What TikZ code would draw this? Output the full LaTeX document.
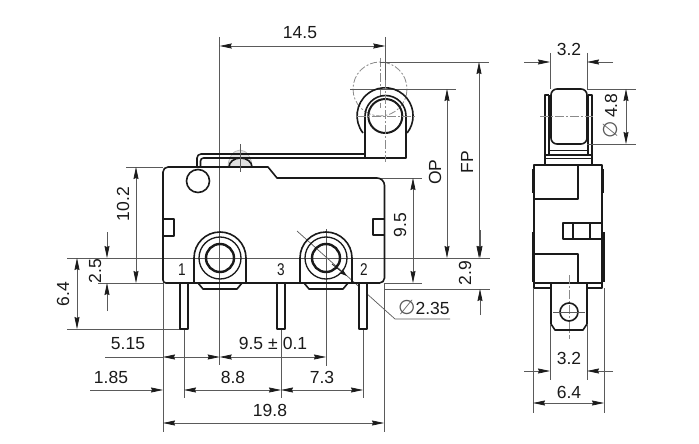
\documentclass[tikz,border=0pt]{standalone}
\usepackage{fontspec}
\setmainfont{Liberation Sans}
\newfontfamily\symfont{DejaVu Sans}
\usetikzlibrary{arrows.meta}
\definecolor{ink}{HTML}{1A1A1A}
\definecolor{thin}{HTML}{5A5A5A}
\definecolor{cen}{HTML}{8A8A8A}
\tikzset{
  outline/.style={draw=ink,line width=1.6pt,line join=round},
  heavy/.style={draw=ink,line width=2.4pt},
  dimline/.style={draw=thin,line width=0.7pt},
  centre/.style={draw=cen,line width=0.7pt,dash pattern=on 9pt off 2pt on 2pt off 2pt},
  ghost/.style={draw=cen,line width=0.8pt,dash pattern=on 7pt off 2pt on 2pt off 2pt},
  tip/.style={-{Stealth[length=12pt,width=5pt,inset=1pt,color=ink]}},
  both/.style={{Stealth[length=12pt,width=5pt,inset=1pt,color=ink]}-{Stealth[length=12pt,width=5pt,inset=1pt,color=ink]}},
  label/.style={text=ink,font=\fontsize{17.5}{18}\selectfont,inner sep=0pt},
  vlabel/.style={label,rotate=90},
  pinno/.style={text=ink,font=\fontsize{17}{18}\selectfont,inner sep=0pt,xscale=.8},
}
\begin{document}
\begin{tikzpicture}[x=1pt,y=-1pt]
\useasboundingbox (0,0) rectangle (699,444);
\fill[white] (0,0) rectangle (699,444);
% ghost positions
\draw[ghost] (380,89) circle (27);
\draw[centre] (380,58) -- (380,108);
\draw[fill=black!12,draw=black!30,line width=.6pt] (228,167) arc (180:360:12 and 17);
% extension lines
\draw[dimline] (219.7,37) -- (219.7,365);
\draw[dimline] (385.3,37) -- (385.3,89);
\draw[dimline] (380,62) -- (489,62);
\draw[dimline] (350,89) -- (456,89);
\draw[dimline] (126,167) -- (163,167);
\draw[dimline] (377,178) -- (422,178);
\draw[dimline] (67,258) -- (490,258);
\draw[dimline] (98,283) -- (163,283);
\draw[dimline] (384,283) -- (422,283);
\draw[dimline] (384,289) -- (490,289);
\draw[dimline] (67,329) -- (180,329);
\draw[dimline] (163,283) -- (163,432);
\draw[dimline] (384,283) -- (384,432);
\draw[dimline] (184,329) -- (184,398);
\draw[dimline] (281,329) -- (281,398);
\draw[dimline] (363,329) -- (363,398);
\draw[dimline] (326,289) -- (326,366);
\draw[dimline] (326,229) -- (326,289);
% dimensions
\draw[dimline,both] (219.7,46) -- (385.3,46);
\node[label] (d145) at (300,33) {14.5};
\draw[dimline,both] (136,167) -- (136,283);
\node[vlabel] (d102) at (123,204) {10.2};
\draw[dimline,both] (413,178) -- (413,283);
\node[vlabel] (d95) at (400,225) {9.5};
\draw[dimline,both] (447,89) -- (447,258);
\node[vlabel] (dop) at (435,172) {OP};
\draw[dimline,both] (479,62) -- (479,258);
\node[vlabel] (dfp) at (467,162) {FP};
\draw[dimline,both] (77,258) -- (77,329);
\node[vlabel] (d64) at (63,294) {6.4};
\draw[dimline,tip] (107,232) -- (107,258);
\draw[dimline,tip] (107,311) -- (107,283);
\node[vlabel] (d25) at (95,271) {2.5};
\draw[dimline,tip] (480,230) -- (480,258);
\draw[dimline,tip] (480,315) -- (480,289);
\node[vlabel] (d29) at (465,273) {2.9};
\draw[dimline] (105,357) -- (163,357);
\draw[dimline,both] (163,357) -- (219.7,357);
\node[label] (d515) at (128,344) {5.15};
\draw[dimline,both] (219.7,357) -- (326,357);
\node[label] (d95b) at (273,343) {9.5\hspace{5pt}±\hspace{5pt}0.1};
\draw[dimline,tip] (90,390) -- (163,390);
\draw[dimline,both] (184,390) -- (281,390);
\draw[dimline,both] (281,390) -- (363,390);
\node[label] (d185) at (111,377) {1.85};
\node[label] (d88) at (233,377) {8.8};
\node[label] (d73) at (322,377) {7.3};
\draw[dimline,both] (163,423) -- (384,423);
\node[label] (d198) at (270,410) {19.8};
% leader
\coordinate (lk) at (395,319);
\draw[dimline] (297,231) -- (lk) -- (450,319);
\draw[line width=.8pt,draw=ink,-{Stealth[length=8pt,width=5pt]}] (332,264) -- (347,276);
\node[label,anchor=west] (d235) at (398,307) {{\symfont\fontsize{20}{20}\selectfont\color{thin}∅}2.35};
% lever and roller
\draw[outline] (197,167) -- (197,158) arc (180:270:4) -- (365,154);
\draw[outline] (200.5,167) -- (200.5,161) arc (180:270:3) -- (365,158);
\draw[outline] (365,158) -- (406,158) -- (406,116);
\draw[outline] (365,158) -- (365,116) arc (180:360:20.5);
\draw[outline] (363,133) arc (142:398:28);
\draw[draw=ink,line width=2pt] (385.3,116) circle (17);
\draw[centre] (385.3,80) -- (385.3,162);
\draw[centre] (357,116) -- (416,116);
% body
\draw[outline] (163,280) -- (163,172) arc (180:270:5) -- (268,167) -- (277,178) -- (377,178)
  arc (-90:0:7.5) -- (384.5,278) arc (0:90:5) -- (166,283) arc (90:180:3);
\draw[outline] (163,219) -- (174,219) -- (174,236) -- (163,236);
\draw[outline] (384.5,219) -- (373,219) -- (373,235) -- (384.5,235);
\draw[outline,fill=white] (198,181) circle (11.5);
\draw[outline] (229,167) arc (180:360:11.5 and 9);
\draw[dimline] (240,144) -- (240,172);
% terminals (left, right)
\foreach \c in {220,326}{
  \draw[outline] (\c-26,283) -- (\c-26,258) arc (180:360:26) -- (\c+26,283);
  \draw[outline] (\c-22,283) -- (\c-17,289) -- (\c+17,289) -- (\c+22,283);
  \draw[draw=ink,line width=1.3pt] (\c,258) circle (21);
  \draw[heavy] (\c,258) circle (14);
}
% pins
\draw[outline,fill=white] (180,283) rectangle (188,329);
\draw[outline,fill=white] (277,283) rectangle (285,329);
\draw[outline,fill=white] (359,283) rectangle (367,329);
\node[pinno] (p1) at (182,270) {1};
\node[pinno] (p3) at (281,270) {3};
\node[pinno] (p2) at (364,270) {2};
% side view: roller and arms
\draw[outline] (545,158) -- (545,95) -- (549,95);
\draw[outline] (592,158) -- (592,95) -- (588,95);
\draw[outline] (549,95) -- (549,155);
\draw[outline] (588,95) -- (588,155);
\draw[outline,rounded corners=6pt,fill=white] (551,89) rectangle (587,144);
\draw[draw=ink,line width=1pt] (549,150) -- (588,150);
\draw[outline] (545,155) -- (592,155);
\draw[outline] (545,158.5) -- (592,158.5);
\draw[outline] (545,158) -- (545,165);
\draw[outline] (592,158) -- (592,165);
\draw[centre] (540,116) -- (593,116);
% side view: body
\draw[outline] (534,165) rectangle (602,288);
\draw[heavy] (533,169) -- (533,193);
\draw[heavy] (603,169) -- (603,193);
\draw[heavy] (533,232) -- (533,282);
\draw[heavy] (604,232) -- (604,282);
\draw[outline] (534,199) -- (578,199) -- (578,165);
\draw[outline] (534,254) -- (578,254) -- (578,283);
\draw[outline] (602,223) -- (563,223) -- (563,239) -- (602,239);
\draw[outline] (573,223) -- (573,239);
\draw[outline] (590,223) -- (590,239);
\draw[outline] (534,283) -- (602,283);
% side view: tab
\draw[outline,fill=white] (551,284) -- (551,324) -- (555,330) -- (583,330) -- (587,324) -- (587,284);
\draw[centre] (569,275) -- (569,339);
\draw[outline] (569,312) circle (9);
\draw[dimline] (553,312) -- (585,312);
% side view dimensions
\draw[dimline] (550,53) -- (550,89);
\draw[dimline] (587,53) -- (587,89);
\draw[dimline,tip] (524,62) -- (550,62);
\draw[dimline,tip] (613,62) -- (587,62);
\node[label] (s32a) at (569,49) {3.2};
\draw[dimline] (587,89) -- (636,89);
\draw[dimline] (587,144) -- (636,144);
\draw[dimline,both] (626,89) -- (626,144);
\node[vlabel] (s48) at (610,116) {{\symfont\fontsize{20}{20}\selectfont\color{thin}∅}\,4.8};
\draw[dimline] (550,324) -- (550,380);
\draw[dimline] (587,324) -- (587,380);
\draw[dimline,tip] (524,371) -- (550,371);
\draw[dimline,tip] (613,371) -- (587,371);
\node[label] (s32b) at (569,358) {3.2};
\draw[dimline] (533,288) -- (533,413);
\draw[dimline] (604,288) -- (604,413);
\draw[dimline,both] (533,403) -- (604,403);
\node[label] (s64) at (569,392) {6.4};
\end{tikzpicture}
\end{document}
